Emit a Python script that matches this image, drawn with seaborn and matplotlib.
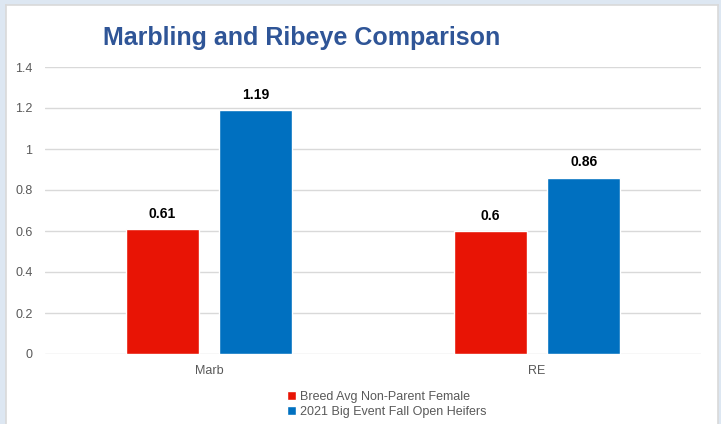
import matplotlib
matplotlib.use("Agg")
import matplotlib.pyplot as plt
import seaborn as sns
import pandas as pd

categories = ["Marb", "RE"]
series_names = ["Breed Avg Non-Parent Female", "2021 Big Event Fall Open Heifers"]
breed_avg = [0.61, 0.60]
big_event = [1.19, 0.86]
y_ticks = [0, 0.2, 0.4, 0.6, 0.8, 1, 1.2, 1.4]
y_tick_labels = ["0", "0.2", "0.4", "0.6", "0.8", "1", "1.2", "1.4"]

df = pd.DataFrame({
    "cat": categories * 2,
    "series": [series_names[0]] * 2 + [series_names[1]] * 2,
    "value": breed_avg + big_event,
})

sns.set_style("white")
plt.rcParams["font.family"] = ["Liberation Sans", "DejaVu Sans"]

fig = plt.figure(figsize=(7.21, 4.24), dpi=100)
fig.patch.set_facecolor("#dde7f2")

# white chart panel with thin gray border
bg = fig.add_axes([6 / 721, -0.01, 712 / 721, 419 / 424 + 0.01], zorder=-1)
bg.set_facecolor("white")
bg.set_xticks([])
bg.set_yticks([])
for s in bg.spines.values():
    s.set_color("#d9d9d9")
    s.set_linewidth(1.2)

ax = fig.add_axes([45 / 721, 70 / 424, 656 / 721, 287 / 424])
ax.set_facecolor("none")
palette = {series_names[0]: "#e81405", series_names[1]: "#0070c0"}
sns.barplot(data=df, x="cat", y="value", hue="series", palette=palette,
            width=0.57, gap=0.22, saturation=1, ax=ax, zorder=3)

for cont in ax.containers:
    ax.bar_label(cont, labels=[f"{v:g}" for v in cont.datavalues], padding=6,
                 fontsize=10, fontweight="bold", color="black")

ax.set_ylim(0, 1.4)
ax.set_xlim(-0.5, 1.5)
ax.set_yticks(y_ticks)
ax.set_yticklabels(y_tick_labels)
ax.yaxis.grid(True, color="#d9d9d9", linewidth=1, zorder=0)
for s in ["top", "right", "left", "bottom"]:
    ax.spines[s].set_visible(False)
ax.tick_params(axis="both", length=0, labelsize=9, labelcolor="#595959")
ax.tick_params(axis="y", pad=9)
ax.tick_params(axis="x", pad=8)
ax.set_xlabel("")
ax.set_ylabel("")

leg = ax.legend(loc="upper left", bbox_to_anchor=(231 / 656, -0.09), frameon=False,
                fontsize=9, handlelength=0.7, handleheight=0.7, handletextpad=0.3,
                labelspacing=0.25, labelcolor="#595959")

fig.text(302 / 721, 1 - 38 / 424, "Marbling and Ribeye Comparison", ha="center", va="center",
         fontsize=18, fontweight="bold", color="#2f5597")

fig.savefig("out.png", dpi=100)
